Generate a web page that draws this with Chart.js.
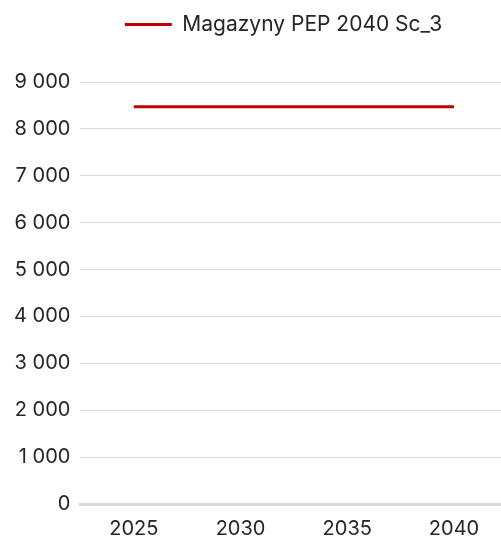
<!DOCTYPE html>
<html>
<head>
<meta charset="utf-8">
<script src="https://cdn.jsdelivr.net/npm/chart.js@4/dist/chart.umd.min.js"></script>
<style>
  html, body { margin: 0; padding: 0; background: #fff; }
  #wrap { width: 501px; height: 540px; }
</style>
</head>
<body>
<div id="wrap"><canvas id="c"></canvas></div>
<script>
// dane
const years = [2025, 2030, 2035, 2040];
const magazyny = [8470, 8470, 8470, 8470];
const seriesName = 'Magazyny PEP 2040 Sc_3';

const textColor = '#262626';
const gridColor = '#d9d9d9';
const fontSize = 20;

// format z odstępem tysięcy, np. 9 000
function fmt(v) {
  return String(v).replace(/\B(?=(\d{3})+(?!\d))/g, ' ');
}

// odstęp pod legendą i przesunięcie legendy w prawo
const legendTweak = {
  id: 'legendTweak',
  afterInit(chart) {
    const fit = chart.legend.fit;
    chart.legend.fit = function() {
      fit.call(this);
      this.height += 37;
    };
  },
  afterLayout(chart) {
    chart.legend.left += 31;
    chart.legend.right += 31;
  }
};

const points = years.map((y, i) => ({ x: y, y: magazyny[i] }));

const ctx = document.getElementById('c').getContext('2d');
const chart = new Chart(ctx, {
  type: 'line',
  data: {
    datasets: [{
      label: seriesName,
      data: points,
      borderColor: '#c00000',
      backgroundColor: '#c00000',
      borderWidth: 3,
      pointRadius: 0,
      tension: 0
    }]
  },
  plugins: [legendTweak],
  options: {
    responsive: true,
    maintainAspectRatio: false,
    animation: false,
    layout: { padding: { top: 0, left: 4, right: 0, bottom: -14 } },
    plugins: {
      legend: {
        position: 'top',
        labels: {
          color: textColor,
          font: { family: 'Inter', size: 21 },
          boxWidth: 47,
          boxHeight: 3,
          padding: 14,
          generateLabels: function(chart) {
            const items = Chart.defaults.plugins.legend.labels.generateLabels(chart);
            items.forEach(it => { it.lineWidth = 0; });
            return items;
          }
        }
      },
      tooltip: { enabled: false }
    },
    scales: {
      x: {
        type: 'linear',
        min: 2022.5,
        max: 2042.2,
        grid: { display: false, drawTicks: false },
        border: { color: gridColor, width: 3 },
        ticks: {
          stepSize: 5,
          includeBounds: false,
          color: textColor,
          font: { family: 'Inter', size: fontSize },
          padding: 13,
          callback: function(value) { return String(value); }
        }
      },
      y: {
        min: 0,
        max: 9000,
        grid: { color: gridColor, lineWidth: 1, drawTicks: false },
        border: { display: false },
        ticks: {
          stepSize: 1000,
          color: textColor,
          font: { family: 'Inter', size: fontSize },
          padding: 10,
          callback: function(value) { return fmt(value); }
        }
      }
    }
  }
});
</script>
</body>
</html>
